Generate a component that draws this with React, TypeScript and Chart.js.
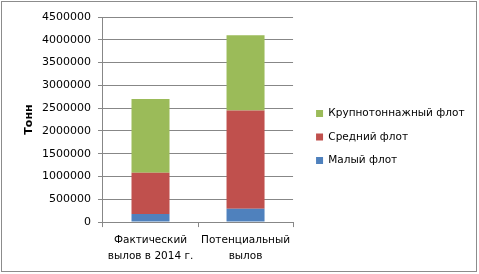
import React, { useEffect, useRef } from "react";
import { Chart, registerables } from "chart.js";

Chart.register(...registerables);

const categories: string[][] = [
  ["Фактический", "вылов в 2014 г."],
  ["Потенциальный", "вылов"],
];
const smallFleet = [180000, 290000];
const mediumFleet = [905000, 2160000];
const largeFleet = [1615000, 1650000];
const seriesNames = ["Малый флот", "Средний флот", "Крупнотоннажный флот"];
const yAxisTitle = "Тонн";
const yMax = 4500000;
const yStep = 500000;

const FONT = "'DejaVu Sans', sans-serif";

const legendShift = {
  id: "legendShift",
  afterLayout(chart: any) {
    if (chart.legend) {
      chart.legend.left += 10;
      chart.legend.right += 10;
      chart.legend.top -= 6;
      chart.legend.bottom -= 6;
    }
  },
};

export default function App() {
  const ref = useRef<HTMLCanvasElement | null>(null);
  useEffect(() => {
    if (!ref.current) return;
    const chart = new Chart(ref.current, {
      type: "bar",
      data: {
        labels: categories as any,
        datasets: [
          { label: seriesNames[0], data: smallFleet, backgroundColor: "#4F81BD" },
          { label: seriesNames[1], data: mediumFleet, backgroundColor: "#C0504D" },
          { label: seriesNames[2], data: largeFleet, backgroundColor: "#9BBB59" },
        ],
      },
      options: {
        animation: false,
        responsive: false,
        devicePixelRatio: 1,
        layout: { padding: { left: 6, right: 14.5, top: 17, bottom: 5 } },
        datasets: { bar: { categoryPercentage: 1, barPercentage: 0.4 } },
        plugins: {
          legend: {
            position: "right",
            reverse: true,
            maxWidth: 240,
            labels: {
              boxWidth: 7,
              boxHeight: 7,
              padding: 13,
              color: "#000",
              font: { family: FONT, size: 10.5 },
            },
          },
          tooltip: { enabled: false },
        },
        scales: {
          x: {
            stacked: true,
            grid: {
              drawOnChartArea: false,
              tickLength: 5,
              color: "#878787",
            },
            border: { color: "#878787" },
            ticks: {
              color: "#000",
              padding: 5,
              maxRotation: 0,
              autoSkip: false,
              font: { family: FONT, size: 10.5, lineHeight: 1.52 },
            },
          },
          y: {
            stacked: true,
            min: 0,
            max: yMax,
            grid: { color: "#878787", tickLength: 5 },
            border: { color: "#878787" },
            ticks: {
              stepSize: yStep,
              color: "#000",
              padding: 7,
              font: { family: FONT, size: 11 },
              callback: (v: any) => String(v),
            },
            title: {
              display: true,
              text: yAxisTitle,
              color: "#000",
              padding: { top: 18, bottom: 0 },
              font: { family: FONT, size: 11, weight: "bold", lineHeight: 1 },
            },
          },
        },
      },
      plugins: [legendShift],
    });
    return () => chart.destroy();
  }, []);

  return (
    <div style={{ position: "fixed", left: 0, top: 0, width: 479, height: 274, background: "#fff" }}>
      <canvas ref={ref} width={479} height={274} style={{ position: "absolute", left: 0, top: 0 }} />
      <div
        style={{
          position: "absolute",
          left: 1,
          top: 1,
          width: 476,
          height: 271,
          boxSizing: "border-box",
          border: "1px solid #8c8c8c",
          pointerEvents: "none",
        }}
      />
    </div>
  );
}
